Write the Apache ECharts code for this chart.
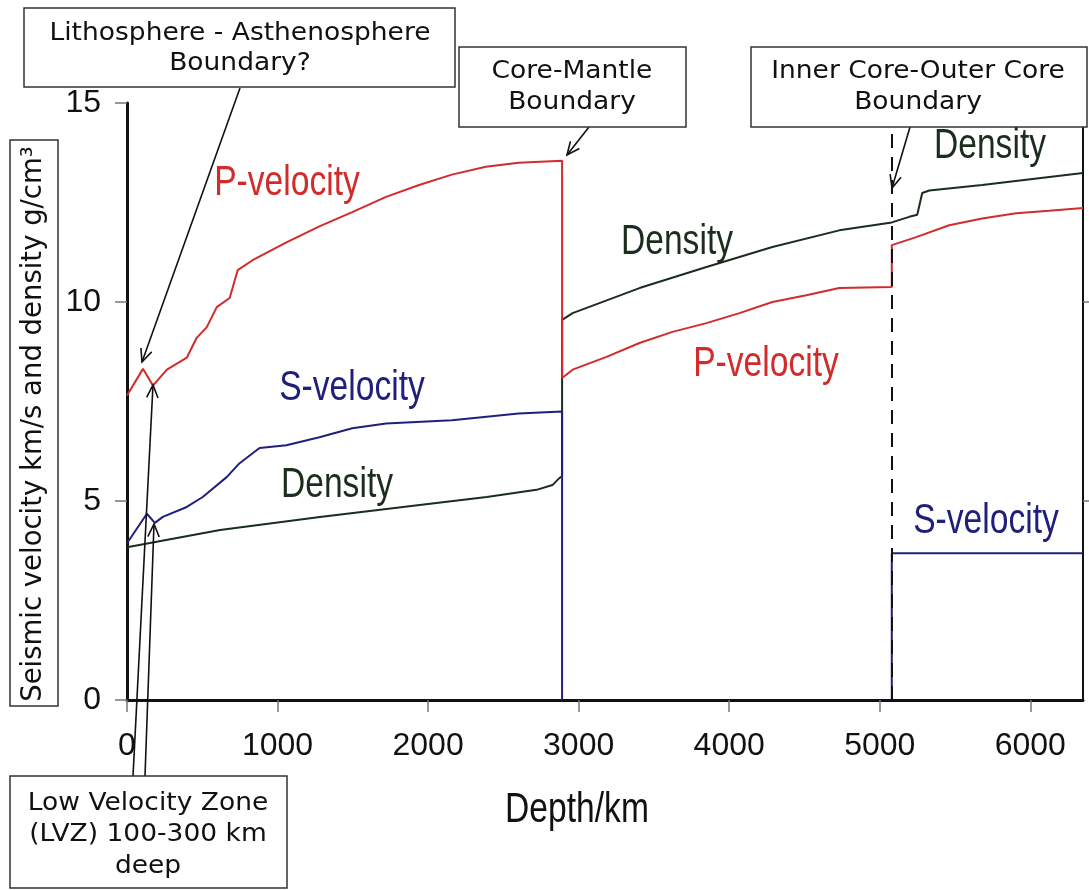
<!DOCTYPE html>
<html>
<head>
<meta charset="utf-8">
<script src="https://cdn.jsdelivr.net/npm/echarts@6/dist/echarts.min.js"></script>
<style>
html,body{margin:0;padding:0;background:#fff;}
#chart{width:1089px;height:890px;}
</style>
</head>
<body>
<div id="chart"></div>
<script>
// ---- data (depth km, value) ----
const depthTicks = [0, 1000, 2000, 3000, 4000, 5000, 6000];
const valueTicks = [0, 5, 10, 15];
const depthMax = 6350;
const innerCoreBoundary = 5080;

const pVelocity = [
  [0, 7.65], [106, 8.32], [172, 7.9], [265, 8.3], [397, 8.6], [463, 9.1], [530, 9.37],
  [596, 9.87], [682, 10.1], [735, 10.8], [834, 11.05], [1059, 11.5], [1278, 11.9],
  [1496, 12.26], [1721, 12.64], [1940, 12.94], [2158, 13.2], [2383, 13.4], [2602, 13.5],
  [2890, 13.55], [2890, 8.09], [2960, 8.3], [3185, 8.62], [3404, 8.97], [3623, 9.25],
  [3849, 9.47], [4068, 9.72], [4287, 10.0], [4512, 10.17], [4731, 10.35], [5080, 10.38],
  [5080, 11.43], [5242, 11.63], [5461, 11.93], [5680, 12.1], [5906, 12.23], [6125, 12.29],
  [6350, 12.36]
];
const sVelocityMantle = [
  [0, 3.94], [132, 4.68], [185, 4.45], [238, 4.6], [397, 4.85], [503, 5.1], [662, 5.6],
  [748, 5.95], [880, 6.33], [1059, 6.4], [1278, 6.6], [1496, 6.83], [1721, 6.95],
  [2158, 7.03], [2602, 7.2], [2890, 7.25], [2890, 0]
];
const sVelocityInnerCore = [[5080, 0], [5080, 3.69], [6350, 3.69]];
const density = [
  [0, 3.84], [618, 4.27], [1281, 4.6], [1944, 4.9], [2389, 5.1], [2720, 5.28], [2826, 5.4],
  [2873, 5.58], [2890, 5.62], [2890, 9.55], [2960, 9.72], [3404, 10.35], [3849, 10.88],
  [4287, 11.38], [4731, 11.8], [5080, 12.0], [5196, 12.14], [5249, 12.19], [5282, 12.74],
  [5329, 12.8], [5680, 12.94], [6350, 13.24]
];

// ---- styling ----
const RED = '#d22b2b', BLUE = '#20207c', DENS = '#1b2d1c';
const SANS = "'Liberation Sans',Arial,sans-serif";
const BOXFONT = "'DejaVu Sans',Verdana,sans-serif";

function arrow(x1, y1, x2, y2) {
  const a = Math.atan2(y2 - y1, x2 - x1), L = 14, w = 0.42;
  const p1 = [x2 - L * Math.cos(a - w), y2 - L * Math.sin(a - w)];
  const p2 = [x2 - L * Math.cos(a + w), y2 - L * Math.sin(a + w)];
  return [
    {type: 'line', z: 100, shape: {x1, y1, x2, y2}, style: {stroke: '#111', lineWidth: 1.6}},
    {type: 'polyline', z: 100, shape: {points: [p1, [x2, y2], p2]}, style: {stroke: '#111', lineWidth: 1.6, fill: null}}
  ];
}
function boxText(t, x, y, rot, size) {
  return {type: 'text', z: 101, x, y, rotation: rot || 0, scaleX: rot ? 1 : 1.06,
    style: {text: t, font: (size || 25) + 'px ' + BOXFONT, fill: '#111', align: 'center', verticalAlign: 'middle'}};
}
function box(x, y, w, h, lines, cx, ys) {
  const els = [{type: 'rect', z: 100, shape: {x, y, width: w, height: h},
    style: {fill: '#fff', stroke: '#333', lineWidth: 1.5}}];
  lines.forEach((t, i) => els.push(boxText(t, cx, ys[i])));
  return els;
}
function lbl(text, x, y, color) {
  return {type: 'text', z: 50, x, y, scaleX: 0.8,
    style: {text, font: '42px ' + SANS, fill: color, align: 'center', verticalAlign: 'middle'}};
}

const chart = echarts.init(document.getElementById('chart'), null, {renderer: 'canvas'});
const graphics = [].concat(
  [
    lbl('P-velocity', 287, 183, RED),
    lbl('S-velocity', 352, 388, BLUE),
    lbl('Density', 337, 485, DENS),
    lbl('Density', 677, 242, DENS),
    lbl('P-velocity', 766, 364, RED),
    lbl('Density', 990, 146, DENS),
    lbl('S-velocity', 986, 521, BLUE),
    lbl('Depth/km', 577, 810, '#111')
  ],
  arrow(240, 88, 142, 362),
  arrow(589, 127, 567, 155),
  arrow(910, 127, 892, 188),
  arrow(133, 776, 153, 385),
  arrow(145, 776, 154, 524),
  box(24, 8, 431, 79, ['Lithosphere - Asthenosphere', 'Boundary?'], 240, [33, 63]),
  box(459, 47, 227, 80, ['Core-Mantle', 'Boundary'], 572, [71, 102]),
  box(751, 47, 336, 80, ['Inner Core-Outer Core', 'Boundary'], 918, [71, 102]),
  box(10, 776, 277, 112, ['Low Velocity Zone', '(LVZ) 100-300 km', 'deep'], 148, [803, 834, 866]),
  [
    {type: 'rect', z: 100, shape: {x: 10, y: 140, width: 48, height: 566}, style: {fill: '#fff', stroke: '#333', lineWidth: 1.5}},
    boxText('Seismic velocity km/s and density g/cm³', 34, 424, Math.PI / 2, 27.5)
  ]
);

chart.setOption({
  backgroundColor: '#fff',
  animation: false,
  grid: {left: 127, right: 6, top: 103, bottom: 190},
  xAxis: {
    type: 'value', min: 0, max: depthMax,
    splitLine: {show: false},
    axisLine: {show: true, lineStyle: {color: '#111', width: 3}},
    axisTick: {show: true, length: 12, customValues: depthTicks, lineStyle: {color: '#777', width: 1.5}},
    axisLabel: {customValues: depthTicks, margin: 30, fontFamily: SANS, fontSize: 32, color: '#111',
      formatter: v => String(v)}
  },
  yAxis: [{
    type: 'value', min: 0, max: 15, interval: 5,
    splitLine: {show: false},
    axisLine: {show: true, lineStyle: {color: '#111', width: 3}},
    axisTick: {show: true, length: 12, customValues: valueTicks, lineStyle: {color: '#777', width: 1.5}},
    axisLabel: {customValues: valueTicks, margin: 26, fontFamily: SANS, fontSize: 32, color: '#111',
      formatter: v => String(v)}
  }, {
    type: 'value', min: 0, max: 15, position: 'right',
    splitLine: {show: false},
    axisLine: {show: true, lineStyle: {color: '#111', width: 2}},
    axisTick: {show: true, length: 6, customValues: [5, 10], lineStyle: {color: '#777', width: 1.5}},
    axisLabel: {show: false}
  }],
  series: [
    {name: 'Density', type: 'line', data: density, symbol: 'none', lineStyle: {color: DENS, width: 2}, z: 3},
    {name: 'P-velocity', type: 'line', data: pVelocity, symbol: 'none', lineStyle: {color: RED, width: 2}, z: 4,
      markLine: {silent: true, symbol: 'none', label: {show: false},
        lineStyle: {color: '#111', width: 2, type: [14, 9]},
        data: [{xAxis: innerCoreBoundary}]}},
    {name: 'S-velocity', type: 'line', data: sVelocityMantle, symbol: 'none', lineStyle: {color: BLUE, width: 2}, z: 4},
    {name: 'S-velocity inner core', type: 'line', data: sVelocityInnerCore, symbol: 'none', lineStyle: {color: BLUE, width: 2}, z: 4}
  ],
  graphic: graphics
});
</script>
</body>
</html>
